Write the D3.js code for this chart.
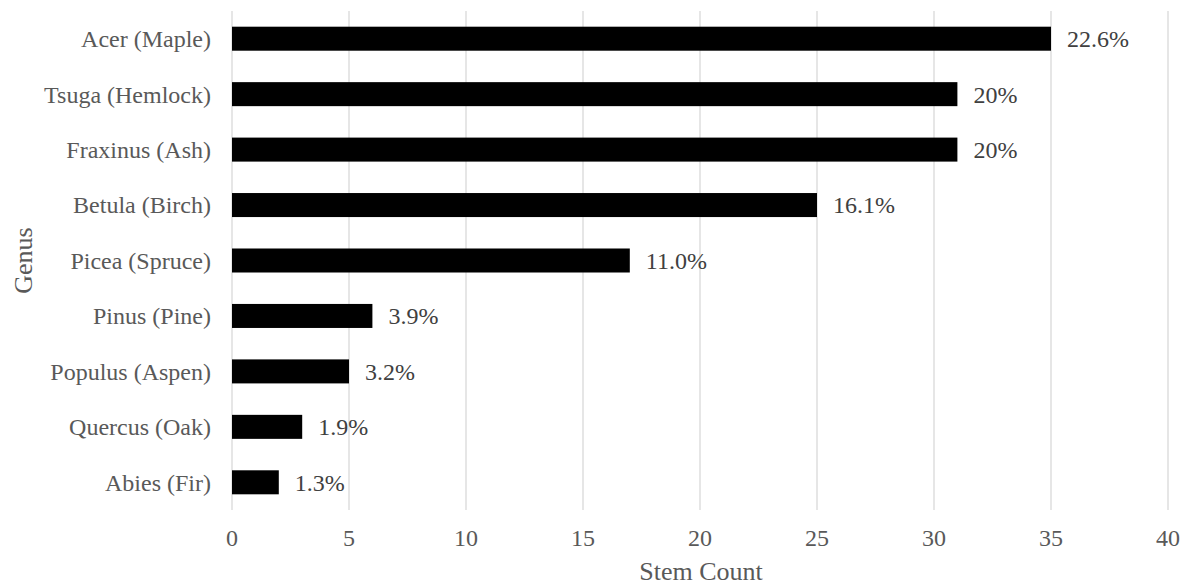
<!DOCTYPE html>
<html>
<head>
<meta charset="utf-8">
<script src="https://cdn.jsdelivr.net/npm/d3@7"></script>
<style>
  body { margin: 0; background: #fff; }
</style>
</head>
<body>
<div id="chart"></div>
<script>
var genera = ['Acer (Maple)', 'Tsuga (Hemlock)', 'Fraxinus (Ash)', 'Betula (Birch)',
  'Picea (Spruce)', 'Pinus (Pine)', 'Populus (Aspen)', 'Quercus (Oak)', 'Abies (Fir)'];
var stem_counts = [35, 31, 31, 25, 17, 6, 5, 3, 2];
var pct_labels = ['22.6%', '20%', '20%', '16.1%', '11.0%', '3.9%', '3.2%', '1.9%', '1.3%'];
var x_ticks = [0, 5, 10, 15, 20, 25, 30, 35, 40];

var chart_width = 1186, chart_height = 586;
var plot_left = 232, plot_right = 1168, plot_top = 11, plot_bottom = 510;
var serif = "'Liberation Serif', 'Times New Roman', serif";

var svg = d3.select('#chart').append('svg')
    .attr('width', chart_width).attr('height', chart_height)
    .attr('font-family', serif);

var x = d3.scaleLinear().domain([0, 40]).range([plot_left, plot_right]);
var y = d3.scaleBand().domain(genera).range([plot_top, plot_bottom]).paddingInner(0.567).paddingOuter(0.283);

// vertical gridlines
svg.append('g').selectAll('line').data(x_ticks).enter().append('line')
    .attr('x1', function(d){ return x(d); })
    .attr('x2', function(d){ return x(d); })
    .attr('y1', plot_top).attr('y2', plot_bottom)
    .attr('stroke', '#d9d9d9').attr('stroke-width', 1.3);

// bars
var rows = genera.map(function(g, i){ return {name: g, value: stem_counts[i], label: pct_labels[i]}; });
svg.append('g').selectAll('rect').data(rows).enter().append('rect')
    .attr('x', x(0))
    .attr('y', function(d){ return y(d.name); })
    .attr('width', function(d){ return x(d.value) - x(0); })
    .attr('height', y.bandwidth())
    .attr('fill', '#000');

// data labels
svg.append('g').selectAll('text').data(rows).enter().append('text')
    .attr('x', function(d){ return x(d.value) + 16; })
    .attr('y', function(d){ return y(d.name) + y.bandwidth() / 2; })
    .attr('dy', '0.35em')
    .attr('font-size', 24)
    .attr('fill', '#404040')
    .text(function(d){ return d.label; });

// category labels
svg.append('g').selectAll('text').data(genera).enter().append('text')
    .attr('x', 211)
    .attr('y', function(d){ return y(d) + y.bandwidth() / 2; })
    .attr('dy', '0.35em')
    .attr('text-anchor', 'end')
    .attr('font-size', 24)
    .attr('fill', '#595959')
    .text(function(d){ return d; });

// x tick labels
svg.append('g').selectAll('text').data(x_ticks).enter().append('text')
    .attr('x', function(d){ return x(d); })
    .attr('y', 538)
    .attr('dy', '0.35em')
    .attr('text-anchor', 'middle')
    .attr('font-size', 24)
    .attr('fill', '#595959')
    .text(function(d){ return d; });

// axis titles
svg.append('text')
    .attr('x', (plot_left + plot_right) / 2 + 1).attr('y', 580)
    .attr('text-anchor', 'middle')
    .attr('font-size', 26).attr('fill', '#595959')
    .text('Stem Count');

svg.append('text')
    .attr('transform', 'translate(32,' + ((plot_top + plot_bottom) / 2) + ') rotate(-90)')
    .attr('text-anchor', 'middle')
    .attr('font-size', 26).attr('fill', '#595959')
    .text('Genus');
</script>
</body>
</html>
